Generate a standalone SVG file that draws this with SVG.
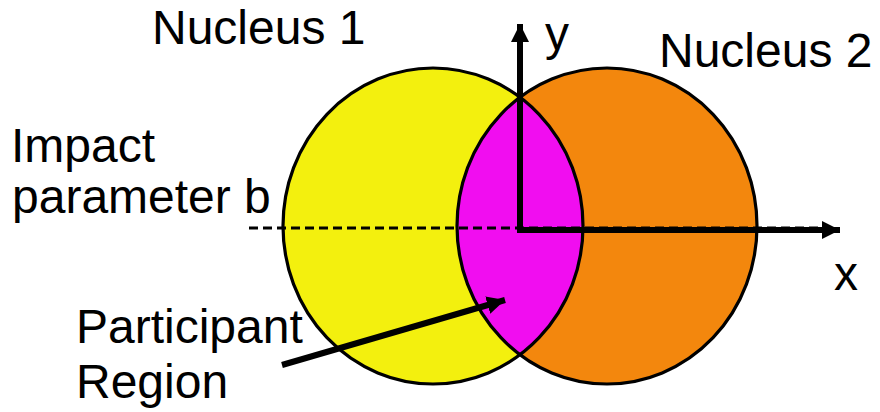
<svg xmlns="http://www.w3.org/2000/svg" width="880" height="412" viewBox="0 0 880 412">
  <style>
    .lbl { font-family: "Liberation Sans", Arial, Helvetica, sans-serif; font-size: 48px; fill: #000; }
    .outline { fill: none; stroke: #000; stroke-width: 3.2; }
    .axis { stroke: #000; stroke-width: 6; fill: none; }
    .dash { stroke: #000; stroke-width: 3; stroke-dasharray: 9 5; fill: none; }
  </style>
  <defs>
    <marker id="ah" viewBox="0 0 10 10" refX="10" refY="5" markerWidth="3" markerHeight="3" orient="auto" markerUnits="strokeWidth">
      <path d="M0,0 L10,5 L0,10 Z" fill="#000"/>
    </marker>
    <clipPath id="clipY">
      <ellipse cx="433" cy="226" rx="150" ry="158"/>
    </clipPath>
  </defs>
  <rect width="880" height="412" fill="#fff"/>

  <g id="nucleus1">
    <ellipse cx="433" cy="226" rx="150" ry="158" fill="#f3f00e"/>
  </g>
  <g id="nucleus2">
    <ellipse cx="607" cy="226" rx="150" ry="158" fill="#f3870d"/>
  </g>
  <g id="participant-region">
    <ellipse cx="607" cy="226" rx="150" ry="158" fill="#f10df0" clip-path="url(#clipY)"/>
  </g>
  <g id="outlines">
    <ellipse class="outline" cx="433" cy="226" rx="150" ry="158"/>
    <ellipse class="outline" cx="607" cy="226" rx="150" ry="158"/>
  </g>

  <g id="connectors">
    <line class="dash" x1="249" y1="228" x2="830" y2="228"/>
    <line class="axis" x1="520" y1="231" x2="520" y2="24" marker-end="url(#ah)"/>
    <line class="axis" x1="517" y1="230" x2="840" y2="230" marker-end="url(#ah)"/>
    <line class="axis" x1="282" y1="365" x2="505" y2="300" marker-end="url(#ah)"/>
  </g>

  <g id="labels">
    <text class="lbl" x="152" y="44">Nucleus 1</text>
    <text class="lbl" x="659" y="67">Nucleus 2</text>
    <text class="lbl" x="545" y="50">y</text>
    <text class="lbl" x="834" y="290">x</text>
    <text class="lbl" x="11" y="162">Impact</text>
    <text class="lbl" x="12" y="213">parameter b</text>
    <text class="lbl" x="76" y="343">Participant</text>
    <text class="lbl" x="76" y="398">Region</text>
  </g>
</svg>
